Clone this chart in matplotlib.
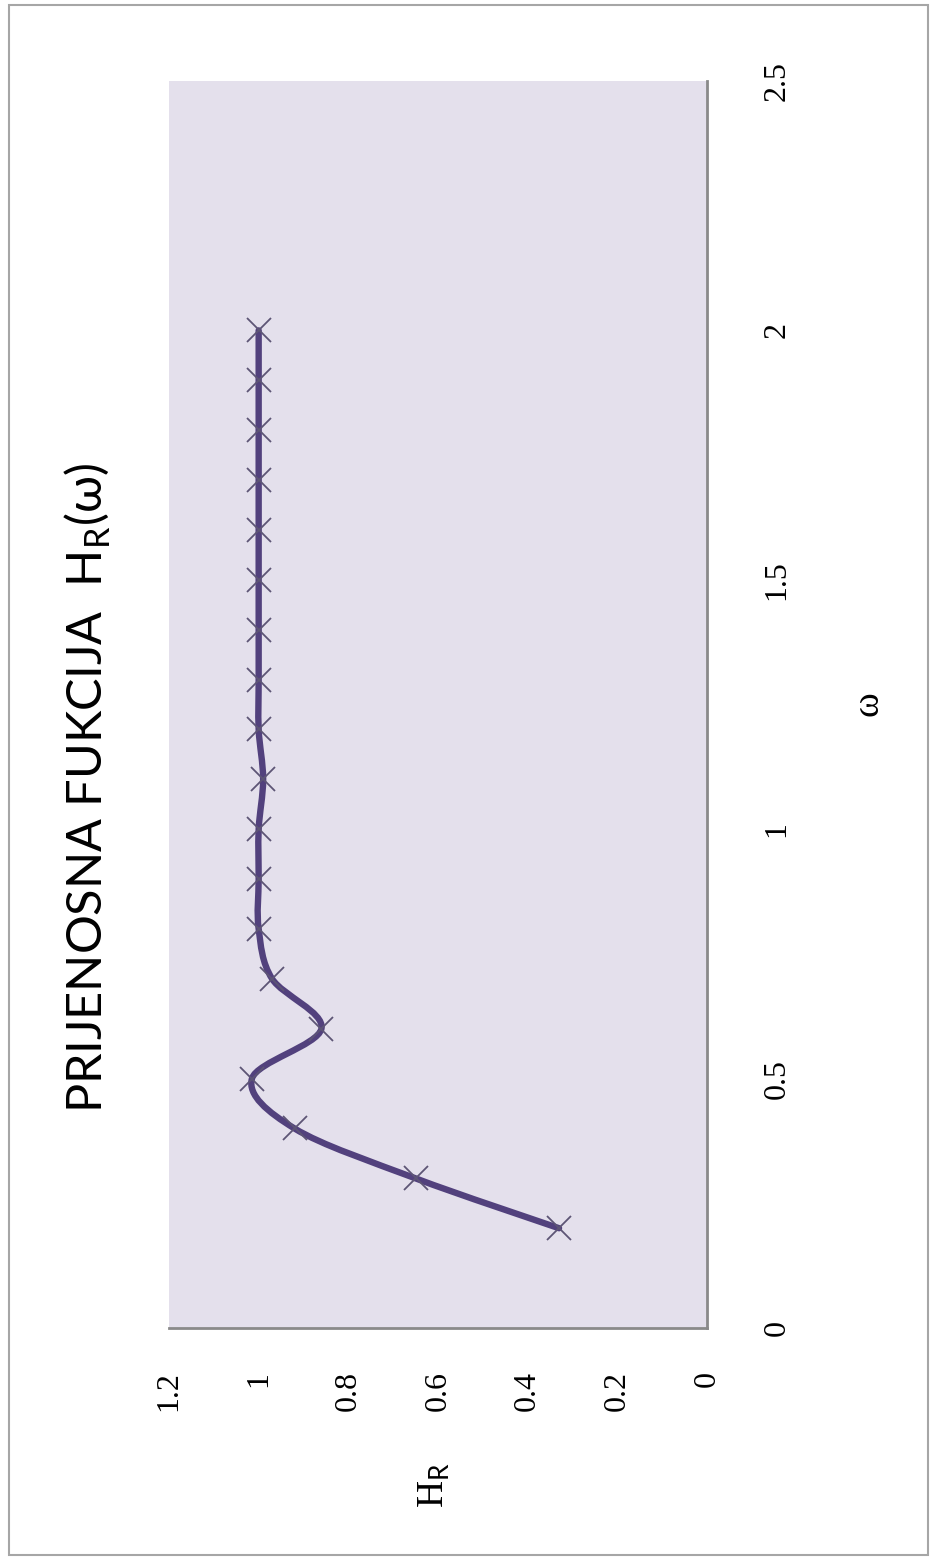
import numpy as np
import matplotlib
matplotlib.use("Agg")
import matplotlib.pyplot as plt
from matplotlib.path import Path
from matplotlib.patches import PathPatch, Rectangle

# data (omega vs H_R)
omega = [0.2, 0.3, 0.4, 0.5, 0.6, 0.7, 0.8, 0.9, 1.0, 1.1, 1.2, 1.3, 1.4,
         1.5, 1.6, 1.7, 1.8, 1.9, 2.0]
h_r = [0.33, 0.65, 0.92, 1.015, 0.86, 0.97, 1.0, 1.0, 1.0, 0.99, 1.0, 1.0,
       1.0, 1.0, 1.0, 1.0, 1.0, 1.0, 1.0]
h_ticks = [0, 0.2, 0.4, 0.6, 0.8, 1, 1.2]
w_ticks = [0, 0.5, 1, 1.5, 2, 2.5]

plt.rcParams['mathtext.fontset'] = 'custom'
plt.rcParams['mathtext.rm'] = 'Lato'

W, H = 937, 1561
fig = plt.figure(figsize=(W / 100, H / 100), dpi=100)

# chart is shown rotated: H on the horizontal axis (reversed), omega upward
ax = fig.add_axes([169 / W, 1 - 1328 / H, (707 - 169) / W, (1328 - 81) / H])
ax.set_facecolor('#e4e0ec')
ax.set_xlim(1.2, 0)
ax.set_ylim(0, 2.5)

# smoothed line (Catmull-Rom style bezier like Excel)
pts = np.column_stack([h_r, omega])
verts = [pts[0]]
codes = [Path.MOVETO]
for i in range(len(pts) - 1):
    p0 = pts[max(i - 1, 0)]
    p1 = pts[i]
    p2 = pts[i + 1]
    p3 = pts[min(i + 2, len(pts) - 1)]
    verts += [p1 + (p2 - p0) / 6, p2 - (p3 - p1) / 6, p2]
    codes += [Path.CURVE4] * 3
ax.add_patch(PathPatch(Path(verts, codes), facecolor='none',
                       edgecolor='#52417d', lw=4.6, capstyle='round',
                       joinstyle='round', zorder=3))
ax.plot(h_r, omega, linestyle='none', marker='x', markersize=17,
        markeredgewidth=1.3, color='#5d5575', zorder=4)

ax.set_xticks(h_ticks)
ax.set_xticklabels([f'{t:g}' for t in h_ticks], rotation=90, va='top',
                   ha='center', fontsize=23, family='Liberation Serif')
ax.yaxis.tick_right()
ax.set_yticks(w_ticks)
ax.set_yticklabels([f'{t:g}' for t in w_ticks], rotation=90, va='center',
                   ha='left', fontsize=23, family='Liberation Serif')
ax.tick_params(axis='x', length=0, pad=31)
ax.tick_params(axis='y', length=0, pad=40)

for s in ['left', 'top']:
    ax.spines[s].set_visible(False)
for s in ['right', 'bottom']:
    ax.spines[s].set_color('#8a8a8a')
    ax.spines[s].set_linewidth(2)

# axis titles and chart title
fig.text(868 / W, 1 - 704 / H, 'ω', rotation=90, ha='center', va='center',
         fontsize=27, family='Liberation Serif')
fig.text(434 / W, 1 - 1485 / H, r'H$_{\mathrm{R}}$', rotation=90,
         ha='center', va='center', fontsize=27, family='Liberation Serif')
fig.text(88 / W, 1 - 788 / H, r'PRIJENOSNA FUKCIJA  H$_{\mathrm{R}}$(ω)',
         rotation=90, ha='center', va='center', fontsize=35, family='Lato')

# outer chart frame
fig.patches.append(Rectangle((9 / W, 1 - 1555 / H), (928 - 9) / W,
                             (1555 - 5) / H, transform=fig.transFigure,
                             fill=False, edgecolor='#a6a6a6', lw=1.5))

fig.savefig('out.png', dpi=100)
